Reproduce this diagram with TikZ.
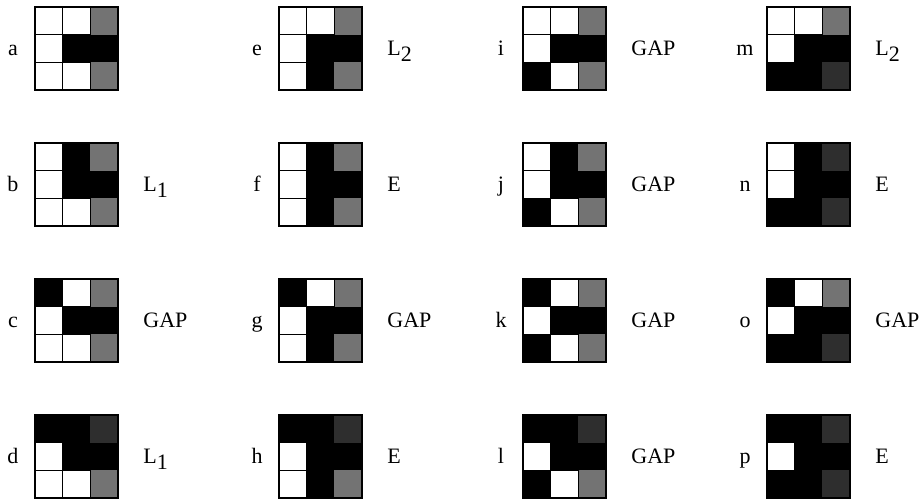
\documentclass[tikz,border=0pt]{standalone}
\usepackage{fontspec}
\setmainfont{Liberation Serif}
\usepackage{tikz}

% label with a lowered index
\newcommand{\Lsub}[1]{L\raisebox{-3pt}{#1}}

\begin{document}
\begin{tikzpicture}[x=0.5pt,y=-0.5pt,line join=miter,
  frame/.style={minimum size=41.5pt,inner sep=0pt,outer sep=0pt},
  cellW/.style={fill=white,draw=black,line width=0.5pt},
  cellB/.style={fill=black},
  cellG/.style={fill=black!55},
  cellD/.style={fill=black!82},
  txt/.style={font=\fontsize{11}{13}\selectfont,inner sep=0pt,anchor=base}]

\useasboundingbox (0,0) rectangle (922,500);

\def\cs{27.67} % lado de uma casa (px)

%---------------------------
% os 16 quadros 3x3
%---------------------------
\foreach \name/\i/\j/\cells/\lab in {
  a/0/0/{W,W,G,W,B,B,W,W,G}/{},
  b/0/1/{W,B,G,W,B,B,W,W,G}/{\Lsub{1}},
  c/0/2/{B,W,G,W,B,B,W,W,G}/GAP,
  d/0/3/{B,B,D,W,B,B,W,W,G}/{\Lsub{1}},
  e/1/0/{W,W,G,W,B,B,W,B,G}/{\Lsub{2}},
  f/1/1/{W,B,G,W,B,B,W,B,G}/E,
  g/1/2/{B,W,G,W,B,B,W,B,G}/GAP,
  h/1/3/{B,B,D,W,B,B,W,B,G}/E,
  i/2/0/{W,W,G,W,B,B,B,W,G}/GAP,
  j/2/1/{W,B,G,W,B,B,B,W,G}/GAP,
  k/2/2/{B,W,G,W,B,B,B,W,G}/GAP,
  l/2/3/{B,B,D,W,B,B,B,W,G}/GAP,
  m/3/0/{W,W,G,W,B,B,B,B,D}/{\Lsub{2}},
  n/3/1/{W,B,D,W,B,B,B,B,D}/E,
  o/3/2/{B,W,G,W,B,B,B,B,D}/GAP,
  p/3/3/{B,B,D,W,B,B,B,B,D}/E}{
  \pgfmathsetmacro\x{35+244*\i}
  \pgfmathsetmacro\y{7+136*\j}
  \node[frame] (g\name) at (\x+41.5,\y+41.5) {};
  % casas pretas e cinzentas
  \foreach \c [count=\k from 0] in \cells {\if W\c\else
    \pgfmathsetmacro\cx{\x+\cs*mod(\k,3)}
    \pgfmathsetmacro\cy{\y+\cs*int(\k/3)}
    \path[cell\c] (\cx,\cy) rectangle ++(\cs,\cs);
  \fi}
  % casas brancas
  \foreach \c [count=\k from 0] in \cells {\if W\c
    \pgfmathsetmacro\cx{\x+\cs*mod(\k,3)}
    \pgfmathsetmacro\cy{\y+\cs*int(\k/3)}
    \path[cellW] (\cx,\cy) rectangle ++(\cs,\cs);
  \fi}
  \draw[line width=0.75pt] (g\name.south west) rectangle (g\name.north east);
  % rótulos
  \node[txt] (l\name) at ([xshift=-11pt,yshift=-3.5pt]g\name.west) {\name};
  \ifx\lab\empty\else
    \node[txt,anchor=base west] (r\name) at ([xshift=12.5pt,yshift=-3.5pt]g\name.east) {\lab};
  \fi
}

\end{tikzpicture}
\end{document}
